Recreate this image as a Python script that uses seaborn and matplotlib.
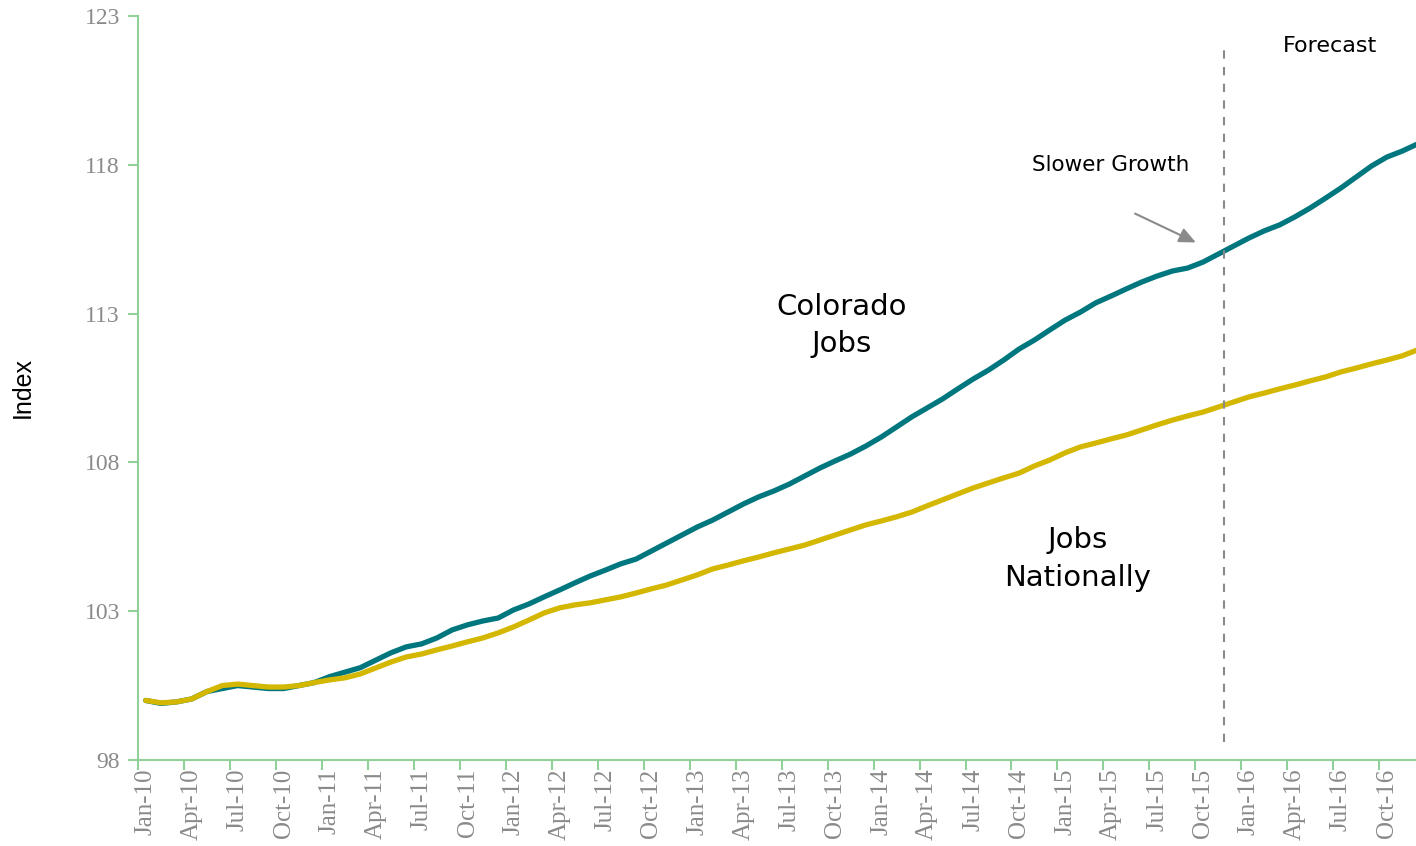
import pandas as pd
import matplotlib.pyplot as plt
import seaborn as sns
import numpy as np

# ─── Data ─────────────────────────────────────────────────────────────────────
months = pd.date_range('2010-01-01', '2016-12-01', freq='MS')
month_labels = [d.strftime('%b-%y') for d in months]

colorado = [
    100.0, 99.9, 99.95, 100.05, 100.3, 100.4, 100.5, 100.45, 100.4, 100.4, 100.5, 100.6,
    100.8, 100.95, 101.1, 101.35, 101.6, 101.8, 101.9, 102.1, 102.37, 102.54, 102.67, 102.77,
    103.04, 103.24, 103.48, 103.71, 103.95, 104.18, 104.38, 104.59, 104.75, 105.02, 105.29, 105.56,
    105.83, 106.06, 106.33, 106.6, 106.84, 107.04, 107.27, 107.54, 107.81, 108.05, 108.28, 108.55,
    108.85, 109.19, 109.53, 109.83, 110.13, 110.47, 110.8, 111.1, 111.44, 111.81, 112.11, 112.45,
    112.78, 113.05, 113.36, 113.59, 113.83, 114.06, 114.26, 114.43, 114.53, 114.73, 115.0, 115.27,
    115.54, 115.78, 115.98, 116.25, 116.55, 116.88, 117.22, 117.59, 117.96, 118.26, 118.46, 118.7,
]
national = [
    100.0, 99.92, 99.95, 100.05, 100.3, 100.5, 100.55, 100.5, 100.45, 100.45, 100.5, 100.6,
    100.69, 100.76, 100.89, 101.09, 101.29, 101.46, 101.56, 101.7, 101.83, 101.97, 102.1, 102.27,
    102.47, 102.7, 102.94, 103.11, 103.21, 103.28, 103.38, 103.48, 103.61, 103.75, 103.88, 104.05,
    104.22, 104.42, 104.55, 104.69, 104.82, 104.96, 105.09, 105.22, 105.39, 105.56, 105.73, 105.9,
    106.03, 106.17, 106.33, 106.54, 106.74, 106.94, 107.14, 107.31, 107.48, 107.64, 107.88, 108.08,
    108.32, 108.52, 108.65, 108.79, 108.92, 109.09, 109.26, 109.42, 109.56, 109.69, 109.86, 110.03,
    110.2, 110.33, 110.47, 110.6, 110.74, 110.87, 111.04, 111.17, 111.31, 111.44, 111.58, 111.78,
]

pos = np.arange(len(months)) + 0.5   # category centres
df = pd.concat([
    pd.DataFrame({'pos': pos, 'value': colorado, 'series': 'Colorado'}),
    pd.DataFrame({'pos': pos, 'value': national, 'series': 'National'}),
])

TEAL = '#00767E'
GOLD = '#D4B700'
GREEN = '#8FD199'
GREY = '#8A8A8A'

# ─── Plot ─────────────────────────────────────────────────────────────────────
sns.set_style('white')
fig = plt.figure(figsize=(14.16, 8.46), dpi=100)
ax = fig.add_axes([0.0975, 0.1017, 0.9025, 0.8794])

sns.lineplot(data=df, x='pos', y='value', hue='series',
             palette={'Colorado': TEAL, 'National': GOLD},
             hue_order=['Colorado', 'National'],
             linewidth=3.8, legend=False, ax=ax)

ax.set_xlim(0, 83.4)
ax.set_ylim(98, 123)
ax.set_yticks([98, 103, 108, 113, 118, 123])

# ticks on category boundaries, labels centred on categories
ax.set_xticks(np.arange(0, 84, 3))
ax.set_xticklabels([])
ax.set_xticks(np.arange(0, 84, 3) + 0.5, minor=True)
ax.set_xticklabels(month_labels[::3], minor=True, rotation=90,
                   fontfamily='Liberation Serif', fontsize=18, color=GREY)
ax.tick_params(axis='x', which='major', direction='out', length=7, width=1.5,
               color=GREEN, bottom=True)
ax.tick_params(axis='x', which='minor', length=0, pad=6)
ax.tick_params(axis='y', direction='out', length=7, width=1.5, color=GREEN,
               left=True, pad=6)
for lbl in ax.get_yticklabels():
    lbl.set_fontfamily('Liberation Serif')
    lbl.set_fontsize(17)
    lbl.set_color(GREY)

for side in ['top', 'right']:
    ax.spines[side].set_visible(False)
for side in ['left', 'bottom']:
    ax.spines[side].set_color(GREEN)
    ax.spines[side].set_linewidth(1.5)

ax.set_xlabel('')
ax.set_ylabel('Index', fontfamily='Liberation Sans', fontsize=18, labelpad=36,
              color='black')

# forecast divider
ax.plot([70.85, 70.85], [98.6, 121.85], linestyle=(0, (4, 4)), color=GREY,
        linewidth=1.5)

txt = dict(fontfamily='DejaVu Sans', color='black')
ax.text(77.8, 122.0, 'Forecast', ha='center', va='center', fontsize=16, **txt)
ax.text(63.5, 118.0, 'Slower Growth', ha='center', va='center', fontsize=15.5, **txt)
ax.text(45.9, 112.6, 'Colorado\nJobs', ha='center', va='center', fontsize=21,
        linespacing=1.45, **txt)
ax.text(61.3, 104.75, 'Jobs\nNationally', ha='center', va='center', fontsize=21,
        linespacing=1.45, **txt)

ax.annotate('', xy=(69.2, 115.35), xytext=(64.9, 116.4),
            arrowprops=dict(arrowstyle='-|>,head_length=1.0,head_width=0.45',
                            color=GREY, lw=1.5))

fig.savefig('out.png', dpi=100)
